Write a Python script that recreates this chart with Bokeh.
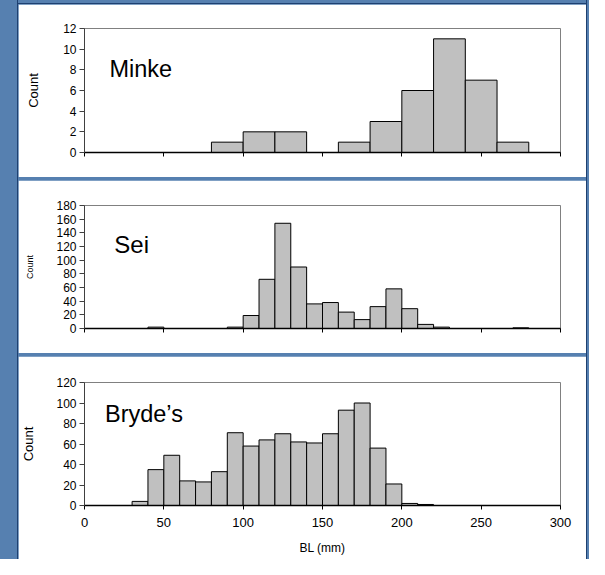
from bokeh.plotting import figure
from bokeh.models import Range1d, Label, Row, Column, Spacer
from bokeh.embed import file_html
from bokeh.resources import INLINE

# ---- data ----
x_ticks = [0, 50, 100, 150, 200, 250, 300]

minke_bin_left = [0, 20, 40, 60, 80, 100, 120, 140, 160, 180, 200, 220, 240, 260, 280]
minke_counts = [0, 0, 0, 0, 1, 2, 2, 0, 1, 3, 6, 11, 7, 1, 0]
minke_width = 20
minke_yticks = [0, 2, 4, 6, 8, 10, 12]

sei_bin_left = [0, 10, 20, 30, 40, 50, 60, 70, 80, 90, 100, 110, 120, 130, 140,
                150, 160, 170, 180, 190, 200, 210, 220, 230, 240, 250, 260, 270, 280, 290]
sei_counts = [0, 0, 0, 0, 2, 0, 0, 0, 0, 2, 19, 72, 154, 90, 36,
              38, 24, 13, 32, 58, 29, 6, 2, 0, 0, 0, 0, 1, 0, 0]
sei_width = 10
sei_yticks = [0, 20, 40, 60, 80, 100, 120, 140, 160, 180]

bryde_bin_left = [0, 10, 20, 30, 40, 50, 60, 70, 80, 90, 100, 110, 120, 130, 140,
                  150, 160, 170, 180, 190, 200, 210, 220, 230, 240, 250, 260, 270, 280, 290]
bryde_counts = [0, 0, 0, 4, 35, 49, 24, 23, 33, 71, 58, 64, 70, 62, 61,
                70, 93, 100, 56, 21, 2, 1, 0, 0, 0, 0, 0, 0, 0, 0]
bryde_width = 10
bryde_yticks = [0, 20, 40, 60, 80, 100, 120]

FONT = "Liberation Sans"
BLUE = "#5680b0"
NAVY = "#1e4070"
BAR_FILL = "#c0c0c0"
PANEL_W = 568


def make_panel(height, ymax, yticks, bin_left, counts, width, name, name_xy, name_size,
               borders, count_size, count_standoff, show_xlabels):
    p = figure(width=PANEL_W, height=height, output_backend="svg", toolbar_location=None,
               x_range=Range1d(0, 300), y_range=Range1d(0, ymax))
    p.min_border_left, p.min_border_right, p.min_border_top, p.min_border_bottom = borders
    p.background_fill_color = "white"
    p.border_fill_color = "white"
    p.outline_line_color = "#808080"
    p.outline_line_width = 1
    p.grid.visible = False

    rights = [b + width for b in bin_left]
    p.quad(left=bin_left, right=rights, bottom=0, top=counts,
           fill_color=BAR_FILL, line_color="black", line_width=1)

    xa = p.xaxis[0]
    xa.ticker = x_ticks
    xa.axis_line_color = "black"
    xa.axis_line_width = 1.5
    xa.major_tick_line_color = "black"
    xa.major_tick_in = 0
    xa.major_tick_out = 4
    xa.minor_tick_line_color = None
    xa.major_label_text_font = FONT
    xa.major_label_text_color = "black"
    if show_xlabels:
        xa.major_label_text_font_size = "13px"
        xa.major_label_standoff = 8
        xa.axis_label = "BL (mm)"
        xa.axis_label_text_font = FONT
        xa.axis_label_text_font_size = "12px"
        xa.axis_label_text_font_style = "normal"
        xa.axis_label_text_color = "black"
        xa.axis_label_standoff = 11
    else:
        xa.major_label_overrides = {t: "" for t in x_ticks}
        xa.major_label_text_font_size = "12px"
        xa.major_label_standoff = 0

    ya = p.yaxis[0]
    ya.ticker = yticks
    ya.axis_line_color = "#404040"
    ya.axis_line_width = 1
    ya.major_tick_line_color = "#404040"
    ya.major_tick_in = 0
    ya.major_tick_out = 5
    ya.minor_tick_line_color = None
    ya.major_label_text_font = FONT
    ya.major_label_text_font_size = "12px"
    ya.major_label_text_color = "black"
    ya.major_label_standoff = 3
    ya.axis_label = "Count"
    ya.axis_label_text_font = FONT
    ya.axis_label_text_font_size = count_size
    ya.axis_label_text_font_style = "normal"
    ya.axis_label_text_color = "black"
    ya.axis_label_standoff = count_standoff

    p.add_layout(Label(x=name_xy[0], y=name_xy[1], text=name, text_font=FONT,
                       text_font_size=name_size, text_color="black",
                       text_baseline="alphabetic", text_align="left"))
    return p


p1 = make_panel(173, 12, minke_yticks, minke_bin_left, minke_counts, minke_width,
                "Minke", (15.7, 8.1), "23.5px", (59, 24, 24, 25), "13px", 19, False)
p2 = make_panel(173, 180, sei_yticks, sei_bin_left, sei_counts, sei_width,
                "Sei", (18.8, 123), "24px", (61, 25, 25, 25), "9px", 18, False)
p3 = make_panel(203, 120, bryde_yticks, bryde_bin_left, bryde_counts, bryde_width,
                "Bryde\u2019s", (12.9, 89.5), "23.5px", (65, 26, 26, 54), "13px", 17, True)

top_gap = Spacer(width=PANEL_W, height=3)
top_line = Spacer(width=PANEL_W, height=1, styles={"background-color": NAVY})
gap1 = Spacer(width=PANEL_W, height=3)
gap2 = Spacer(width=PANEL_W, height=3)
col = Column(children=[top_gap, top_line, p1, gap1, p2, gap2, p3], spacing=0)

left_blue = Spacer(width=17, height=559)
left_navy = Spacer(width=1, height=559, styles={"background-color": NAVY})
right_navy = Spacer(width=1, height=559, styles={"background-color": NAVY})
right_blue = Spacer(width=2, height=559)
root = Row(children=[left_blue, left_navy, col, right_navy, right_blue], spacing=0,
           width=589, height=559, styles={"background-color": BLUE})

open("out.html", "w").write(file_html(root, INLINE))
